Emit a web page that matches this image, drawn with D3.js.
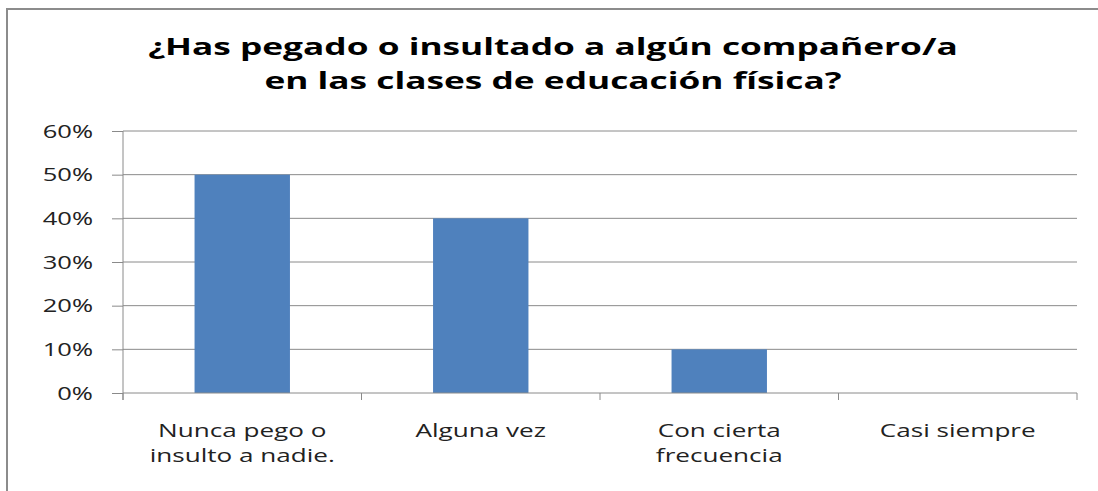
<!DOCTYPE html>
<html>
<head>
<meta charset="utf-8">
<script src="https://cdn.jsdelivr.net/npm/d3@7"></script>
<style>
  body { margin: 0; background: #fff; }
  text { font-family: "Open Sans", sans-serif; }
</style>
</head>
<body>
<div class="chart"></div>
<script>
// data
var categories = [["Nunca pego o", "insulto a nadie."], ["Alguna vez"], ["Con cierta", "frecuencia"], ["Casi siempre"]];
var values = [0.5, 0.4, 0.1, 0];
var yTicks = [0, 0.1, 0.2, 0.3, 0.4, 0.5, 0.6];
var titleLines = ["¿Has pegado o insultado a algún compañero/a", "en las clases de educación física?"];

var svgWidth = 1098;
var svgHeight = 491;
var stretch = 1.45; // the picture is wider than the font draws it

var margin = { top: 131, right: 21, bottom: 98, left: 123 };
var width = svgWidth - margin.left - margin.right;
var height = svgHeight - margin.top - margin.bottom;

var svg = d3.select(".chart")
    .append("svg")
    .attr("width", svgWidth)
    .attr("height", svgHeight);

// outer frame (right and bottom edges fall off the picture)
svg.append("rect")
    .attr("x", 7)
    .attr("y", 9)
    .attr("width", 1200)
    .attr("height", 600)
    .attr("fill", "none")
    .attr("stroke", "#8c8c8c")
    .attr("stroke-width", 2);

// title
svg.selectAll(".title")
    .data(titleLines)
    .enter()
    .append("text")
    .attr("class", "title")
    .attr("transform", function (d, i) { return `translate(553,${55 + i * 34}) scale(1.47,1)`; })
    .attr("text-anchor", "middle")
    .attr("font-size", "24px")
    .attr("font-weight", "bold")
    .attr("fill", "#000")
    .text(function (d) { return d; });

var chart = svg.append("g")
    .attr("transform", `translate(${margin.left},${margin.top})`);

var xScale = d3.scaleBand()
    .domain(d3.range(categories.length))
    .range([0, width])
    .paddingInner(0.6)
    .paddingOuter(0.3);

var yScale = d3.scaleLinear()
    .domain([0, 0.6])
    .range([height, 0]);

// gridlines
chart.selectAll(".grid")
    .data(yTicks.slice(1))
    .enter()
    .append("line")
    .attr("class", "grid")
    .attr("x1", 0)
    .attr("x2", width)
    .attr("y1", function (d) { return yScale(d); })
    .attr("y2", function (d) { return yScale(d); })
    .attr("stroke", "#8a8a8a")
    .attr("stroke-width", 1);

// bars
chart.selectAll(".bar")
    .data(values)
    .enter()
    .append("rect")
    .attr("class", "bar")
    .attr("x", function (d, i) { return xScale(i); })
    .attr("y", function (d) { return yScale(d); })
    .attr("width", xScale.bandwidth())
    .attr("height", function (d) { return height - yScale(d); })
    .attr("fill", "#4f81bd");

// y axis
var yAxis = d3.axisLeft(yScale)
    .tickValues(yTicks)
    .tickSize(11)
    .tickFormat(d3.format(".0%"));

var yG = chart.append("g").attr("class", "y-axis").call(yAxis);
yG.select(".domain").attr("stroke", "#8a8a8a").attr("d", `M0,0V${height + 7}`);
yG.selectAll(".tick line").attr("stroke", "#8a8a8a");
yG.selectAll(".tick text")
    .attr("x", null)
    .attr("dy", null)
    .attr("transform", "translate(-30,6) scale(1.42,1)")
    .attr("font-size", "18px")
    .attr("fill", "#222");

// x axis: category boundaries get the ticks
var bounds = d3.range(categories.length + 1).map(function (i) { return i * xScale.step(); });
chart.append("line")
    .attr("x1", 0)
    .attr("x2", width)
    .attr("y1", height)
    .attr("y2", height)
    .attr("stroke", "#8a8a8a");
chart.selectAll(".xtick")
    .data(bounds)
    .enter()
    .append("line")
    .attr("class", "xtick")
    .attr("x1", function (d) { return d; })
    .attr("x2", function (d) { return d; })
    .attr("y1", height)
    .attr("y2", height + 7)
    .attr("stroke", "#8a8a8a");

var labels = chart.selectAll(".xlabel")
    .data(categories)
    .enter()
    .append("text")
    .attr("class", "xlabel")
    .attr("transform", function (d, i) {
        return `translate(${xScale(i) + xScale.bandwidth() / 2},${height + 44}) scale(${stretch},1)`;
    })
    .attr("text-anchor", "middle")
    .attr("font-size", "18px")
    .attr("fill", "#222");

labels.selectAll("tspan")
    .data(function (d) { return d; })
    .enter()
    .append("tspan")
    .attr("x", 0)
    .attr("y", function (d, i) { return i * 25; })
    .text(function (d) { return d; });
</script>
</body>
</html>
